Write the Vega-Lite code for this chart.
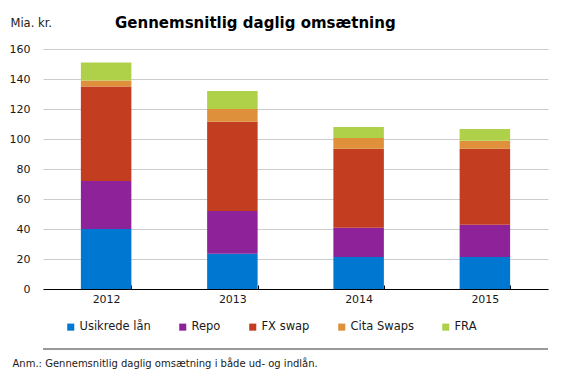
{
  "$schema": "https://vega.github.io/schema/vega-lite/v6.json",
  "width": 505,
  "height": 240,
  "autosize": "none",
  "padding": {"left": 43, "top": 49, "right": 17, "bottom": 91},
  "background": "white",
  "config": {
    "font": "DejaVu Sans",
    "view": {"stroke": null},
    "axis": {"labelFont": "DejaVu Sans", "titleFont": "DejaVu Sans", "labelColor": "#1a1a1a", "titleColor": "#1a1a1a"}
  },
  "title": {
    "text": "Gennemsnitlig daglig omsætning",
    "anchor": "start",
    "dx": 106,
    "offset": -14,
    "fontSize": 15,
    "fontWeight": "bold",
    "font": "DejaVu Sans",
    "color": "#000000"
  },
  "data": {
    "values": [
      {"year": "2012", "type": "Usikrede lån", "rank": 1, "value": 40},
      {"year": "2012", "type": "Repo", "rank": 2, "value": 32},
      {"year": "2012", "type": "FX swap", "rank": 3, "value": 63},
      {"year": "2012", "type": "Cita Swaps", "rank": 4, "value": 4},
      {"year": "2012", "type": "FRA", "rank": 5, "value": 12},
      {"year": "2013", "type": "Usikrede lån", "rank": 1, "value": 23.5},
      {"year": "2013", "type": "Repo", "rank": 2, "value": 28.5},
      {"year": "2013", "type": "FX swap", "rank": 3, "value": 59.5},
      {"year": "2013", "type": "Cita Swaps", "rank": 4, "value": 8.5},
      {"year": "2013", "type": "FRA", "rank": 5, "value": 12},
      {"year": "2014", "type": "Usikrede lån", "rank": 1, "value": 21.3},
      {"year": "2014", "type": "Repo", "rank": 2, "value": 19.6},
      {"year": "2014", "type": "FX swap", "rank": 3, "value": 52.6},
      {"year": "2014", "type": "Cita Swaps", "rank": 4, "value": 7.2},
      {"year": "2014", "type": "FRA", "rank": 5, "value": 7.3},
      {"year": "2015", "type": "Usikrede lån", "rank": 1, "value": 21.3},
      {"year": "2015", "type": "Repo", "rank": 2, "value": 21.6},
      {"year": "2015", "type": "FX swap", "rank": 3, "value": 50.6},
      {"year": "2015", "type": "Cita Swaps", "rank": 4, "value": 5.4},
      {"year": "2015", "type": "FRA", "rank": 5, "value": 7.8}
    ]
  },
  "layer": [
    {
      "mark": {"type": "bar"},
      "encoding": {
        "x": {
          "field": "year",
          "type": "nominal",
          "scale": {"paddingInner": 0.6, "paddingOuter": 0.3},
          "axis": {
            "labelAngle": 0,
            "labelFontSize": 11,
            "labelPadding": 8,
            "domainColor": "#000000",
            "domainWidth": 1,
            "ticks": true,
            "tickColor": "#000000",
            "tickSize": -4,
            "tickBand": "extent",
            "title": "Anm.: Gennemsnitlig daglig omsætning i både ud- og indlån.",
            "titleFontSize": 10,
            "titleFontWeight": "normal",
            "titleAnchor": "start",
            "titleAlign": "left",
            "titleX": -31,
            "titleY": 74,
            "titleBaseline": "middle"
          }
        },
        "y": {
          "field": "value",
          "type": "quantitative",
          "stack": "zero",
          "scale": {"domain": [0, 160], "nice": false},
          "axis": {
            "values": [0, 20, 40, 60, 80, 100, 120, 140, 160],
            "labelOverlap": false,
            "labelFontSize": 11,
            "labelPadding": 13,
            "tickSize": 0,
            "domain": false,
            "gridColor": "#cccccc",
            "title": "Mia. kr.",
            "titleFontSize": 11.5,
            "titleFontWeight": "normal",
            "titleAngle": 0,
            "titleAlign": "left",
            "titleBaseline": "middle",
            "titleX": -33,
            "titleY": -26
          }
        },
        "order": {"field": "rank", "type": "quantitative", "sort": "ascending"},
        "color": {
          "field": "type",
          "type": "nominal",
          "sort": ["Usikrede lån", "Repo", "FX swap", "Cita Swaps", "FRA"],
          "scale": {
            "domain": ["Usikrede lån", "Repo", "FX swap", "Cita Swaps", "FRA"],
            "range": ["#0078D2", "#8E2399", "#C33D20", "#DF903A", "#AFD14A"]
          },
          "legend": {
            "title": null,
            "orient": "none",
            "direction": "horizontal",
            "legendX": 22,
            "legendY": 272,
            "symbolType": "square",
            "symbolSize": 50,
            "symbolStrokeWidth": 0,
            "labelFontSize": 11.5,
            "labelColor": "#1a1a1a",
            "labelOffset": 3,
            "columnPadding": 26
          }
        }
      }
    },
    {
      "mark": {"type": "rule", "color": "#999999", "strokeWidth": 1},
      "encoding": {
        "y": {
          "datum": -40,
          "type": "quantitative",
          "scale": {"domain": [0, 160], "nice": false},
          "axis": {
            "values": [0, 20, 40, 60, 80, 100, 120, 140, 160],
            "labelOverlap": false,
            "labelFontSize": 11,
            "labelPadding": 13,
            "tickSize": 0,
            "domain": false,
            "gridColor": "#cccccc",
            "title": "Mia. kr.",
            "titleFontSize": 11.5,
            "titleFontWeight": "normal",
            "titleAngle": 0,
            "titleAlign": "left",
            "titleBaseline": "middle",
            "titleX": -33,
            "titleY": -26
          }
        }
      }
    }
  ]
}
